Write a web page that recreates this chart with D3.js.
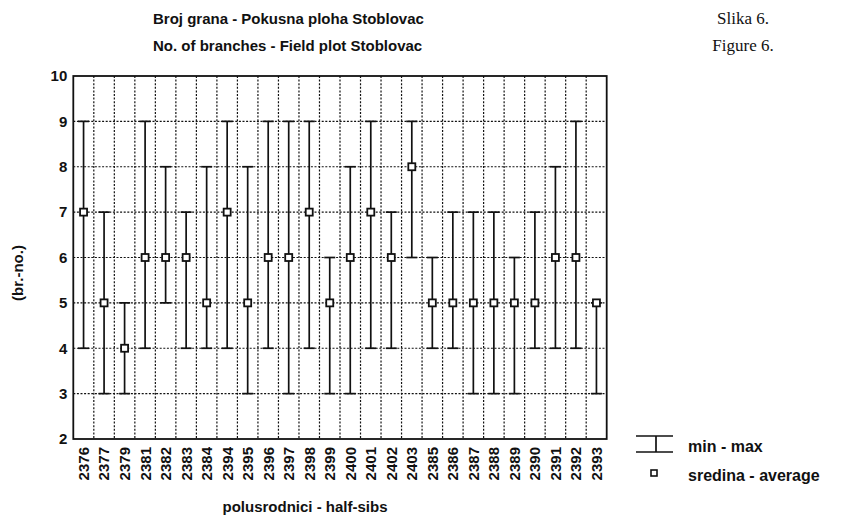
<!DOCTYPE html>
<html>
<head>
<meta charset="utf-8">
<script src="https://cdn.jsdelivr.net/npm/d3@7"></script>
<style>
  body { margin: 0; background: #fff; }
  svg { display: block; }
  text { font-family: "Liberation Sans", Arial, sans-serif; font-weight: bold; fill: #111; }
</style>
</head>
<body>
<svg id="chart"></svg>
<script>
// half-sib families, in plotted order
const families = ["2376", "2377", "2379", "2381", "2382", "2383", "2384", "2394", "2395",
  "2396", "2397", "2398", "2399", "2400", "2401", "2402", "2403", "2385", "2386",
  "2387", "2388", "2389", "2390", "2391", "2392", "2393"];
const maxVals  = [9, 7, 5, 9, 8, 7, 8, 9, 8, 9, 9, 9, 6, 8, 9, 7, 9, 6, 7, 7, 7, 6, 7, 8, 9, 5];
const meanVals = [7, 5, 4, 6, 6, 6, 5, 7, 5, 6, 6, 7, 5, 6, 7, 6, 8, 5, 5, 5, 5, 5, 5, 6, 6, 5];
const minVals  = [4, 3, 3, 4, 5, 4, 4, 4, 3, 4, 3, 4, 3, 3, 4, 4, 6, 4, 4, 3, 3, 3, 4, 4, 4, 3];
const yTicks = [2, 3, 4, 5, 6, 7, 8, 9, 10];

const w = 852, h = 529;
const svg = d3.select("#chart").attr("width", w).attr("height", h);

// plot box
const pLeft = 73.3, pRight = 606.7, pTop = 76, pBottom = 439;

const x = d3.scaleBand().domain(families).range([pLeft, pRight]).padding(0);
const y = d3.scaleLinear().domain([2, 10]).range([pBottom, pTop]);

const rows = families.map((f, i) => ({ f: f, max: maxVals[i], mean: meanVals[i], min: minVals[i] }));

// grid
const grid = svg.append("g")
  .attr("stroke", "#111")
  .attr("stroke-width", 1.2)
  .attr("stroke-dasharray", "2,1.6");
grid.selectAll(".hg")
  .data(yTicks.slice(1, -1))
  .join("line")
    .attr("x1", pLeft).attr("x2", pRight)
    .attr("y1", d => y(d)).attr("y2", d => y(d));
grid.selectAll(".vg")
  .data(families.slice(1))
  .join("line")
    .attr("x1", d => x(d)).attr("x2", d => x(d))
    .attr("y1", pTop).attr("y2", pBottom);

// frame
svg.append("rect")
  .attr("x", pLeft).attr("y", pTop)
  .attr("width", pRight - pLeft).attr("height", pBottom - pTop)
  .attr("fill", "none").attr("stroke", "#111").attr("stroke-width", 1.8);

// axes
const yAxis = d3.axisLeft(y).tickValues(yTicks).tickSize(0).tickPadding(6);
svg.append("g")
  .attr("transform", `translate(${pLeft},0)`)
  .call(yAxis)
  .call(g => g.select(".domain").remove())
  .selectAll("text")
    .style("font-size", "15px")
    .style("font-family", "Liberation Sans, Arial, sans-serif")
    .style("font-weight", "bold");

const xAxis = d3.axisBottom(x).tickSize(0);
svg.append("g")
  .attr("transform", `translate(0,${pBottom})`)
  .call(xAxis)
  .call(g => g.select(".domain").remove())
  .selectAll("text")
    .attr("transform", "rotate(-90)")
    .attr("text-anchor", "end")
    .attr("x", -8)
    .attr("y", 0)
    .attr("dy", "0.36em")
    .style("font-size", "15px")
    .style("font-family", "Liberation Sans, Arial, sans-serif")
    .style("font-weight", "bold");

// whiskers
const cx = d => x(d.f) + x.bandwidth() / 2;
const capW = 5.5;
const marks = svg.append("g").attr("stroke", "#111").attr("stroke-width", 1.7).attr("fill", "none");
marks.selectAll(".wh")
  .data(rows)
  .join("line")
    .attr("x1", cx).attr("x2", cx)
    .attr("y1", d => y(d.max)).attr("y2", d => y(d.min));
marks.selectAll(".capHi")
  .data(rows)
  .join("line")
    .attr("x1", d => cx(d) - capW).attr("x2", d => cx(d) + capW)
    .attr("y1", d => y(d.max)).attr("y2", d => y(d.max));
marks.selectAll(".capLo")
  .data(rows)
  .join("line")
    .attr("x1", d => cx(d) - capW).attr("x2", d => cx(d) + capW)
    .attr("y1", d => y(d.min)).attr("y2", d => y(d.min));

// averages
const sq = 7;
svg.selectAll(".avg")
  .data(rows)
  .join("rect")
    .attr("x", d => cx(d) - sq / 2)
    .attr("y", d => y(d.mean) - sq / 2)
    .attr("width", sq).attr("height", sq)
    .attr("fill", "#fff").attr("stroke", "#111").attr("stroke-width", 1.8);

// titles
svg.append("text").attr("x", 153).attr("y", 24)
  .style("font-size", "15px").text("Broj grana - Pokusna ploha Stoblovac");
svg.append("text").attr("x", 153).attr("y", 51)
  .style("font-size", "15px").text("No. of branches - Field plot Stoblovac");
svg.append("text").attr("x", 743).attr("y", 24).attr("text-anchor", "middle")
  .style("font-family", "Liberation Serif, Times New Roman, serif").style("font-weight", "normal")
  .style("font-size", "17px").text("Slika 6.");
svg.append("text").attr("x", 743).attr("y", 51).attr("text-anchor", "middle")
  .style("font-family", "Liberation Serif, Times New Roman, serif").style("font-weight", "normal")
  .style("font-size", "17px").text("Figure 6.");

// axis titles
svg.append("text")
  .attr("transform", "translate(23,273) rotate(-90)")
  .attr("text-anchor", "middle")
  .style("font-size", "15px").text("(br.-no.)");
svg.append("text")
  .attr("x", 305).attr("y", 512).attr("text-anchor", "middle")
  .style("font-size", "15px").text("polusrodnici - half-sibs");

// legend
const lg = svg.append("g").attr("stroke", "#111").attr("stroke-width", 1.7);
lg.append("line").attr("x1", 636).attr("x2", 673).attr("y1", 436).attr("y2", 436);
lg.append("line").attr("x1", 636).attr("x2", 673).attr("y1", 452).attr("y2", 452);
lg.append("line").attr("x1", 656).attr("x2", 656).attr("y1", 436).attr("y2", 452);
svg.append("rect").attr("x", 651).attr("y", 470).attr("width", 6).attr("height", 6)
  .attr("fill", "#fff").attr("stroke", "#111").attr("stroke-width", 1.6);
svg.append("text").attr("x", 688).attr("y", 452)
  .style("font-size", "16px").text("min - max");
svg.append("text").attr("x", 688).attr("y", 481)
  .style("font-size", "16px").text("sredina - average");
</script>
</body>
</html>
